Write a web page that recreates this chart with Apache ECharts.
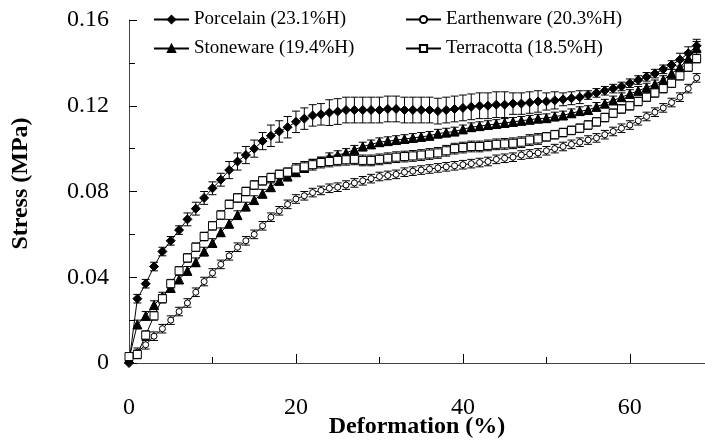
<!DOCTYPE html>
<html>
<head>
<meta charset="UTF-8">
<title>Stress vs Deformation</title>
<script src="https://cdn.jsdelivr.net/npm/echarts@6/dist/echarts.min.js"></script>
<style>
  body { margin: 0; background: #fff; }
  #chart { width: 705px; height: 441px; }
</style>
</head>
<body>
<div id="chart"></div>
<script>
// deformation (%) at each measured point
const deformation = [0,1,2,3,4,5,6,7,8,9,10,11,12,13,14,15,16,17,18,19,20,21,22,23,24,25,26,27,28,29,30,31,32,33,34,35,36,37,38,39,40,41,42,43,44,45,46,47,48,49,50,51,52,53,54,55,56,57,58,59,60,61,62,63,64,65,66,67,68];

// stress (MPa)
const porcelain = [
  0, 0.030, 0.037, 0.045, 0.052, 0.057, 0.062, 0.067, 0.072, 0.077,
  0.0815, 0.0855, 0.090, 0.094, 0.097, 0.100, 0.1035, 0.106, 0.108, 0.110,
  0.1125, 0.114, 0.1155, 0.116, 0.1168, 0.1173, 0.118, 0.118, 0.118, 0.118,
  0.118, 0.1185, 0.1185, 0.118, 0.118, 0.118, 0.118, 0.1175, 0.118, 0.1185,
  0.119, 0.1195, 0.120, 0.120, 0.1205, 0.1205, 0.121, 0.121, 0.1215, 0.122,
  0.122, 0.1225, 0.123, 0.1235, 0.124, 0.125, 0.126, 0.127, 0.128, 0.129,
  0.1305, 0.132, 0.1335, 0.135, 0.137, 0.139, 0.1415, 0.1445, 0.148];
const stoneware = [
  0.002, 0.018, 0.022, 0.027, 0.031, 0.035, 0.039, 0.043, 0.047, 0.052,
  0.056, 0.061, 0.065, 0.069, 0.073, 0.076, 0.079, 0.082, 0.085, 0.087,
  0.089, 0.091, 0.093, 0.094, 0.096, 0.097, 0.098, 0.0995, 0.101, 0.102,
  0.103, 0.1035, 0.104, 0.1045, 0.105, 0.1055, 0.106, 0.107, 0.1075, 0.108,
  0.109, 0.110, 0.1105, 0.111, 0.1115, 0.112, 0.1125, 0.113, 0.1135, 0.114,
  0.1142, 0.115, 0.1155, 0.1165, 0.1175, 0.118, 0.1195, 0.121, 0.1225, 0.124,
  0.1255, 0.127, 0.1285, 0.130, 0.132, 0.135, 0.138, 0.142, 0.147];
const terracotta = [
  0.003, 0.004, 0.013, 0.022, 0.030, 0.037, 0.043, 0.049, 0.054, 0.059,
  0.064, 0.069, 0.074, 0.077, 0.080, 0.083, 0.085, 0.0865, 0.088, 0.089,
  0.0905, 0.0915, 0.0925, 0.0935, 0.094, 0.0945, 0.0948, 0.095, 0.0945, 0.0945,
  0.095, 0.0955, 0.096, 0.0963, 0.0966, 0.097, 0.0975, 0.098, 0.099, 0.100,
  0.1005, 0.101, 0.101, 0.1015, 0.102, 0.1022, 0.1025, 0.103, 0.104, 0.1045,
  0.1055, 0.1065, 0.1075, 0.1085, 0.1095, 0.111, 0.1125, 0.1145, 0.1165, 0.1185,
  0.120, 0.122, 0.124, 0.126, 0.128, 0.1305, 0.134, 0.138, 0.142];
const earthenware = [
  0.001, 0.005, 0.0085, 0.0125, 0.016, 0.020, 0.024, 0.028, 0.033, 0.038,
  0.042, 0.046, 0.050, 0.054, 0.057, 0.060, 0.064, 0.068, 0.071, 0.074,
  0.0765, 0.078, 0.0795, 0.0805, 0.0815, 0.082, 0.083, 0.084, 0.085, 0.086,
  0.087, 0.0875, 0.088, 0.089, 0.0895, 0.090, 0.0905, 0.091, 0.0915, 0.092,
  0.0925, 0.093, 0.0935, 0.094, 0.095, 0.0955, 0.096, 0.097, 0.0975, 0.098,
  0.099, 0.100, 0.101, 0.102, 0.103, 0.104, 0.105, 0.1065, 0.108, 0.1095,
  0.111, 0.113, 0.115, 0.117, 0.119, 0.1215, 0.124, 0.128, 0.133];

// error bar half-heights (MPa)
const errPorcelain = [
  0, 0.002, 0.002, 0.002, 0.002, 0.002, 0.002, 0.003, 0.003, 0.003,
  0.003, 0.003, 0.004, 0.004, 0.004, 0.004, 0.004, 0.005, 0.005, 0.005,
  0.005, 0.005, 0.005, 0.005, 0.006, 0.006, 0.006, 0.006, 0.006, 0.006,
  0.006, 0.006, 0.006, 0.006, 0.006, 0.006, 0.006, 0.006, 0.006, 0.006,
  0.006, 0.006, 0.006, 0.006, 0.006, 0.006, 0.005, 0.005, 0.005, 0.005,
  0.004, 0.004, 0.003, 0.003, 0.003, 0.002, 0.002, 0.002, 0.002, 0.002,
  0.002, 0.002, 0.002, 0.002, 0.002, 0.002, 0.003, 0.003, 0.003];
const errStoneware = [
  0, 0.002, 0.002, 0.002, 0.002, 0.002, 0.002, 0.002, 0.002, 0.002,
  0.002, 0.002, 0.002, 0.002, 0.002, 0.002, 0.002, 0.002, 0.002, 0.002,
  0.002, 0.002, 0.002, 0.002, 0.002, 0.002, 0.002, 0.002, 0.002, 0.002,
  0.002, 0.002, 0.002, 0.002, 0.002, 0.002, 0.002, 0.002, 0.002, 0.002,
  0.002, 0.002, 0.002, 0.002, 0.002, 0.002, 0.002, 0.002, 0.002, 0.002,
  0.002, 0.002, 0.002, 0.002, 0.002, 0.002, 0.002, 0.002, 0.002, 0.002,
  0.002, 0.002, 0.002, 0.002, 0.002, 0.002, 0.003, 0.003, 0.003];
const errTerracotta = [
  0, 0.002, 0.002, 0.002, 0.002, 0.002, 0.002, 0.002, 0.002, 0.002,
  0.002, 0.002, 0.002, 0.002, 0.002, 0.002, 0.002, 0.002, 0.002, 0.002,
  0.0025, 0.0025, 0.0025, 0.0025, 0.0025, 0.0025, 0.0025, 0.0025, 0.0025, 0.0025,
  0.0025, 0.0025, 0.0025, 0.0025, 0.0025, 0.0025, 0.0025, 0.0025, 0.0025, 0.0025,
  0.0025, 0.0025, 0.0025, 0.0025, 0.0025, 0.0025, 0.0025, 0.0025, 0.0025, 0.0025,
  0.002, 0.002, 0.002, 0.002, 0.002, 0.002, 0.002, 0.002, 0.002, 0.002,
  0.002, 0.002, 0.002, 0.002, 0.002, 0.002, 0.002, 0.002, 0.002];
const errEarthenware = [
  0, 0.002, 0.002, 0.002, 0.002, 0.002, 0.002, 0.002, 0.002, 0.002,
  0.002, 0.002, 0.002, 0.002, 0.002, 0.002, 0.002, 0.002, 0.002, 0.002,
  0.002, 0.002, 0.002, 0.002, 0.002, 0.002, 0.002, 0.002, 0.002, 0.002,
  0.002, 0.002, 0.002, 0.002, 0.002, 0.002, 0.002, 0.002, 0.002, 0.002,
  0.002, 0.002, 0.002, 0.002, 0.002, 0.002, 0.002, 0.002, 0.002, 0.002,
  0.002, 0.002, 0.002, 0.002, 0.002, 0.002, 0.002, 0.002, 0.002, 0.002,
  0.002, 0.002, 0.002, 0.002, 0.002, 0.002, 0.002, 0.002, 0.002];

const names = ['Porcelain (23.1%H)', 'Earthenware (20.3%H)', 'Stoneware (19.4%H)', 'Terracotta (18.5%H)'];
const xLabels = [0, 20, 40, 60];
const xMinorTicks = [10, 30, 50];

const font = "'Liberation Serif', 'Times New Roman', serif";

function pairs(ys) { return deformation.map((d, i) => [d, ys[i]]); }
function triples(ys, es) { return deformation.map((d, i) => [d, ys[i], es[i]]); }

function renderErr(params, api) {
    const x = api.value(0), y = api.value(1), e = api.value(2);
    const hi = api.coord([x, y + e]);
    const lo = api.coord([x, y - e]);
    const w = 4;
    const st = { stroke: '#000', lineWidth: 1 };
    return {
        type: 'group',
        children: [
            { type: 'line', shape: { x1: hi[0], y1: hi[1], x2: lo[0], y2: lo[1] }, style: st },
            { type: 'line', shape: { x1: hi[0] - w, y1: hi[1], x2: hi[0] + w, y2: hi[1] }, style: st },
            { type: 'line', shape: { x1: lo[0] - w, y1: lo[1], x2: lo[0] + w, y2: lo[1] }, style: st }
        ]
    };
}

function lineSeries(name, ys, symbol, size, fill) {
    return {
        name: name, type: 'line', data: pairs(ys), z: 3,
        symbol: symbol, symbolSize: size,
        lineStyle: { color: '#000', width: 1 },
        itemStyle: { color: fill, borderColor: '#000', borderWidth: 1 }
    };
}
function errSeries(ys, es) {
    return { type: 'custom', name: 'err', data: triples(ys, es), renderItem: renderErr,
             encode: { x: 0, y: 1 }, z: 2, clip: true, silent: true };
}

const legendText = { fontFamily: font, fontSize: 19, color: '#000' };
function legendAt(name, left, top) {
    return { data: [name], left: left, top: top, itemWidth: 35, itemHeight: 9,
             itemGap: 0, textStyle: legendText, padding: 0 };
}

const chart = echarts.init(document.getElementById('chart'));
chart.setOption({
    animation: false,
    backgroundColor: '#fff',
    legend: [
        legendAt(names[0], 153, 10),
        legendAt(names[1], 405, 10),
        legendAt(names[2], 153, 39),
        legendAt(names[3], 405, 39)
    ],
    grid: { left: 129, right: 0, top: 20, bottom: 78, outerBoundsMode: 'none', containLabel: false },
    xAxis: [{
        type: 'value', min: 0, max: 69,
        name: 'Deformation (%)', nameLocation: 'middle', nameGap: 52, nameMoveOverlap: false,
        nameTextStyle: { fontFamily: font, fontSize: 24, fontWeight: 'bold', color: '#000' },
        axisLine: { lineStyle: { color: '#444', width: 1 } },
        axisTick: { inside: true, length: 9, customValues: xLabels, lineStyle: { color: '#000' } },
        axisLabel: { customValues: xLabels, margin: 33, fontFamily: font, fontSize: 24, color: '#000' },
        splitLine: { show: false }
    }, {
        type: 'value', min: 0, max: 69, position: 'bottom',
        axisLine: { show: false },
        axisTick: { inside: true, length: 6, customValues: xMinorTicks, lineStyle: { color: '#000' } },
        axisLabel: { show: false },
        splitLine: { show: false }
    }],
    yAxis: {
        type: 'value', min: 0, max: 0.16, interval: 0.04,
        name: 'Stress (MPa)', nameLocation: 'middle', nameGap: 96, nameMoveOverlap: false,
        nameTextStyle: { fontFamily: font, fontSize: 24, fontWeight: 'bold', color: '#000', padding: [0, 0, 0, 16] },
        axisLine: { show: true, lineStyle: { color: '#444', width: 1 } },
        axisTick: { show: true, inside: true, length: 8, lineStyle: { color: '#000' } },
        minorTick: { show: true, splitNumber: 2, length: 6, lineStyle: { color: '#000' } },
        axisLabel: { margin: 20, fontFamily: font, fontSize: 24, color: '#000' },
        splitLine: { show: false }
    },
    series: [
        errSeries(porcelain, errPorcelain),
        errSeries(earthenware, errEarthenware),
        errSeries(stoneware, errStoneware),
        errSeries(terracotta, errTerracotta),
        lineSeries(names[0], porcelain, 'diamond', 9, '#000'),
        lineSeries(names[1], earthenware, 'circle', 6, '#fff'),
        lineSeries(names[2], stoneware, 'triangle', 9, '#000'),
        lineSeries(names[3], terracotta, 'rect', 8, '#fff')
    ]
});
</script>
</body>
</html>
